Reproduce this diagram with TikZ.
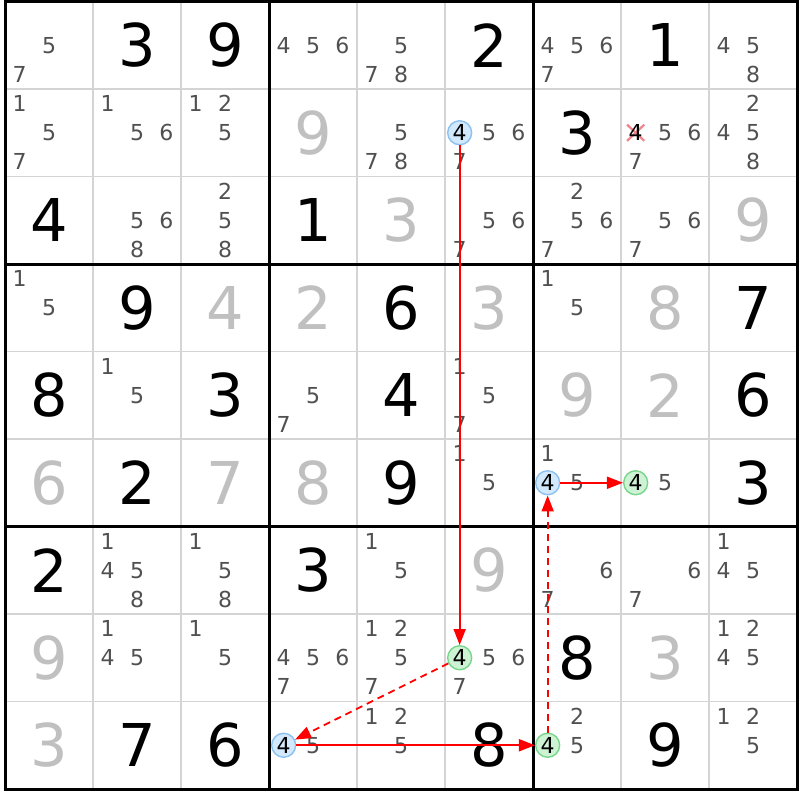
\documentclass[tikz,border=0pt]{standalone}
\usepackage{fontspec}
\setmainfont{DejaVu Sans}
\usetikzlibrary{arrows.meta,shapes.misc}
\definecolor{candcol}{RGB}{80,80,80}
\definecolor{solcol}{RGB}{192,192,192}
\definecolor{thincol}{RGB}{212,212,212}
\definecolor{bluefill}{RGB}{210,232,252}
\definecolor{blueline}{RGB}{140,192,238}
\definecolor{greenfill}{RGB}{206,242,212}
\definecolor{greenline}{RGB}{120,214,140}
\definecolor{xcol}{RGB}{242,130,140}
\definecolor{linkred}{RGB}{255,0,0}
\newcommand\candfont{\fontsize{22}{22}\selectfont}
\newcommand\bigfont{\fontsize{59}{59}\selectfont}
\newcommand\cands[3]{\foreach \dd in {#3}{%
  \pgfmathsetmacro\cx{5+88*(#2-1)+88/3*(mod(\dd-1,3)+0.5)}%
  \pgfmathsetmacro\cy{1.5+87.5*(#1-1)+87.5/3*(floor((\dd-1)/3)+0.5)}%
  \node[candtxt] (k#1#2\dd) at (\cx,\cy) {\dd};}}
\newcommand\bigd[4]{%
  \node[#4] (g#1#2) at ({5+88*(#2-0.5)},{1.5+87.5*(#1-0.5)}) {#3};}
\newcommand\circfour[4]{%
  \pgfmathsetmacro\cx{5+88*(#3-1)+88/6}%
  \pgfmathsetmacro\cy{1.5+87.5*(#2-1)+87.5/2}%
  \node[#4] (#1) at (\cx,\cy) {4};}
\tikzset{
  candtxt/.style={inner sep=0pt, font=\candfont, text=candcol},
  given/.style={inner sep=0pt, font=\bigfont, text=black},
  solved/.style={inner sep=0pt, font=\bigfont, text=solcol},
  thinline/.style={draw=thincol, line width=1.7pt},
  thickline/.style={draw=black, line width=3pt},
  bluec/.style={circle, fill=bluefill, draw=blueline, line width=1.4pt, inner sep=0pt, minimum size=24pt, font=\candfont, text=black},
  greenc/.style={circle, fill=greenfill, draw=greenline, line width=1.4pt, inner sep=0pt, minimum size=24pt, font=\candfont, text=black},
  linkarrow/.style={color=linkred, line width=1.8pt, -{Triangle[length=16pt,width=12pt]}},
  weakarrow/.style={linkarrow, dash pattern=on 7pt off 5pt},
  elim/.style={cross out, draw=xcol, line width=2.2pt, inner sep=0pt, minimum width=15pt, minimum height=14pt}
}
\begin{document}
\begin{tikzpicture}[x=1pt,y=-1pt]
\useasboundingbox (0,0) rectangle (800,800);
\fill[white] (0,0) rectangle (800,800);
% grid
\foreach \i in {1,2,4,5,7,8}{
  \draw[thinline] ({5+88*\i},1.5) -- ({5+88*\i},789);
  \draw[thinline] (5,{1.5+87.5*\i}) -- (797,{1.5+87.5*\i});
}
\foreach \i in {1,2}{
  \draw[thickline] ({5+264*\i},1.5) -- ({5+264*\i},789);
  \draw[thickline] (5,{1.5+262.5*\i}) -- (797,{1.5+262.5*\i});
}
\draw[thickline] (5,1.5) rectangle (797,789);
% row 1
\cands{1}{1}{5,7} \bigd{1}{2}{3}{given} \bigd{1}{3}{9}{given}
\cands{1}{4}{4,5,6} \cands{1}{5}{5,7,8} \bigd{1}{6}{2}{given}
\cands{1}{7}{4,5,6,7} \bigd{1}{8}{1}{given} \cands{1}{9}{4,5,8}
% row 2
\cands{2}{1}{1,5,7} \cands{2}{2}{1,5,6} \cands{2}{3}{1,2,5}
\bigd{2}{4}{9}{solved} \cands{2}{5}{5,7,8} \cands{2}{6}{5,6,7}
\bigd{2}{7}{3}{given} \cands{2}{8}{5,6,7} \cands{2}{9}{2,4,5,8}
% row 3
\bigd{3}{1}{4}{given} \cands{3}{2}{5,6,8} \cands{3}{3}{2,5,8}
\bigd{3}{4}{1}{given} \bigd{3}{5}{3}{solved} \cands{3}{6}{5,6,7}
\cands{3}{7}{2,5,6,7} \cands{3}{8}{5,6,7} \bigd{3}{9}{9}{solved}
% row 4
\cands{4}{1}{1,5} \bigd{4}{2}{9}{given} \bigd{4}{3}{4}{solved}
\bigd{4}{4}{2}{solved} \bigd{4}{5}{6}{given} \bigd{4}{6}{3}{solved}
\cands{4}{7}{1,5} \bigd{4}{8}{8}{solved} \bigd{4}{9}{7}{given}
% row 5
\bigd{5}{1}{8}{given} \cands{5}{2}{1,5} \bigd{5}{3}{3}{given}
\cands{5}{4}{5,7} \bigd{5}{5}{4}{given} \cands{5}{6}{1,5,7}
\bigd{5}{7}{9}{solved} \bigd{5}{8}{2}{solved} \bigd{5}{9}{6}{given}
% row 6
\bigd{6}{1}{6}{solved} \bigd{6}{2}{2}{given} \bigd{6}{3}{7}{solved}
\bigd{6}{4}{8}{solved} \bigd{6}{5}{9}{given} \cands{6}{6}{1,5}
\cands{6}{7}{1,5} \cands{6}{8}{5} \bigd{6}{9}{3}{given}
% row 7
\bigd{7}{1}{2}{given} \cands{7}{2}{1,4,5,8} \cands{7}{3}{1,5,8}
\bigd{7}{4}{3}{given} \cands{7}{5}{1,5} \bigd{7}{6}{9}{solved}
\cands{7}{7}{6,7} \cands{7}{8}{6,7} \cands{7}{9}{1,4,5}
% row 8
\bigd{8}{1}{9}{solved} \cands{8}{2}{1,4,5} \cands{8}{3}{1,5}
\cands{8}{4}{4,5,6,7} \cands{8}{5}{1,2,5,7} \cands{8}{6}{5,6,7}
\bigd{8}{7}{8}{given} \bigd{8}{8}{3}{solved} \cands{8}{9}{1,2,4,5}
% row 9
\bigd{9}{1}{3}{solved} \bigd{9}{2}{7}{given} \bigd{9}{3}{6}{given}
\cands{9}{4}{5} \cands{9}{5}{1,2,5} \bigd{9}{6}{8}{given}
\cands{9}{7}{2,5} \bigd{9}{8}{9}{given} \cands{9}{9}{1,2,5}
% eliminated candidate
\pgfmathsetmacro\cx{5+88*7+88/6}
\pgfmathsetmacro\cy{1.5+87.5+87.5/2}
\node[elim] (x28) at (\cx,\cy) {};
\node[inner sep=0pt, font=\candfont, text=black] (k284) at (\cx,\cy) {4};
% chain cells
\circfour{A}{2}{6}{bluec}
\circfour{B}{8}{6}{greenc}
\circfour{C}{9}{4}{bluec}
\circfour{D}{9}{7}{greenc}
\circfour{E}{6}{7}{bluec}
\circfour{F}{6}{8}{greenc}
% links
\draw[linkarrow] (A) -- (B);
\draw[weakarrow] (B) -- (C);
\draw[linkarrow] (C) -- (D);
\draw[weakarrow] (D) -- (E);
\draw[linkarrow] (E) -- (F);
\end{tikzpicture}
\end{document}
